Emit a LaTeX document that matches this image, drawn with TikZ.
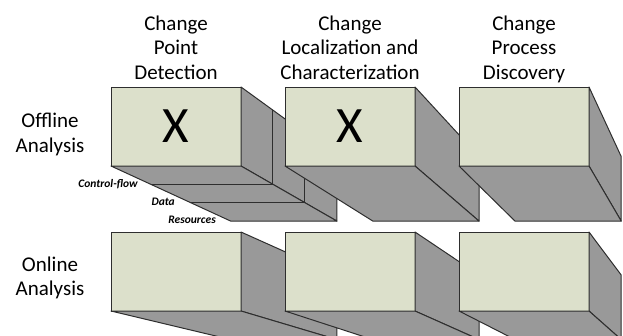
\documentclass[tikz,border=0pt]{standalone}
\usepackage{fontspec}
\setmainfont{Carlito}
\usepackage{xcolor}
\usepackage{tikz}
\usetikzlibrary{calc, positioning}

\definecolor{facegreen}{HTML}{DCE0CB}
\definecolor{sidegray}{HTML}{999999}
\definecolor{edgegray}{HTML}{2E2E2E}

\newcommand{\extdepth}{0.183}
% side and bottom faces of one box, pushed back towards (vp)
\newcommand{\boxprism}[1]{%
  \filldraw[side] (#1.north east) -- ($(#1.north east)!\extdepth!(vp)$)
    -- ($(#1.south east)!\extdepth!(vp)$) -- (#1.south east) -- cycle;
  \filldraw[side] (#1.south west) -- ($(#1.south west)!\extdepth!(vp)$)
    -- ($(#1.south east)!\extdepth!(vp)$) -- (#1.south east) -- cycle;
}

\begin{document}
\begin{tikzpicture}[
    x=1pt, y=-1pt, node distance=44pt,
    front/.style={draw=edgegray, fill=facegreen, line width=1pt, minimum width=130pt,
        minimum height=79pt, inner sep=0pt, outer sep=0pt, font=\fontsize{51}{51}\selectfont},
    side/.style={draw=edgegray, fill=sidegray, line width=1pt, line join=round},
    head/.style={align=center, anchor=north, font=\fontsize{21}{24.5}\selectfont},
    layer label/.style={anchor=base east, inner sep=0pt, font=\fontsize{11.5}{13}\selectfont\bfseries\itshape}
]
\useasboundingbox (0,0) rectangle (623,335);
\clip (0,0) rectangle (623,335);

\coordinate (vp) at (765,467);

% headers
\node[head] (hPoint) at (176,12) {Change\\Point\\Detection};
\node[head] (hLocal) at (350,12) {Change\\Localization and\\Characterization};
\node[head] (hDisc) at (524,12) {Change\\Process\\Discovery};

\node[head] (rOff) at (50,110) {Offline\\Analysis};
\node[head] (rOn) at (50,253) {Online\\Analysis};

% offline row
\node[front, anchor=north west] (pointOff) at (111,87) {X};
\boxprism{pointOff}
\foreach \t in {0.061,0.122}
  \draw[side, fill=none] ($(pointOff.south west)!\t!(vp)$) -- ($(pointOff.south east)!\t!(vp)$)
    -- ($(pointOff.north east)!\t!(vp)$);
\node[layer label] (lCtrl) at (138,187) {Control-flow};
\node[layer label] (lData) at (175,205) {Data};
\node[layer label] (lRes) at (216,223) {Resources};

\node[front, right=of pointOff] (localOff) {X};
\boxprism{localOff}
\node[front, right=of localOff] (discOff) {};
\boxprism{discOff}

% online row
\node[front, below=66pt of pointOff] (pointOn) {};
\boxprism{pointOn}
\node[front, right=of pointOn] (localOn) {};
\boxprism{localOn}
\node[front, right=of localOn] (discOn) {};
\boxprism{discOn}
\end{tikzpicture}
\end{document}
